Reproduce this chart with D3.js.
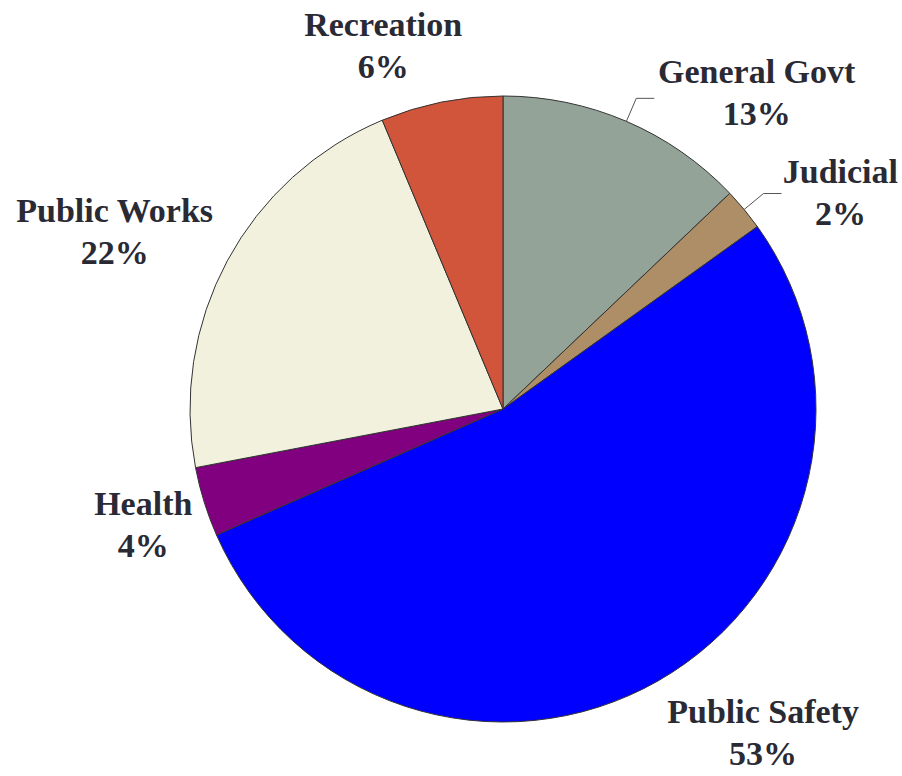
<!DOCTYPE html>
<html>
<head>
<meta charset="utf-8">
<script src="https://cdn.jsdelivr.net/npm/d3@7"></script>
<style>
  html, body { margin: 0; padding: 0; background: #fff; }
  svg { display: block; }
  text.label { font-family: "Liberation Serif", "Times New Roman", Times, serif; font-weight: bold; }
</style>
</head>
<body>
<svg id="chart" width="902" height="776"></svg>
<script>
// data, clockwise from 12 o'clock
const categories = ['General Govt', 'Judicial', 'Public Safety', 'Health', 'Public Works', 'Recreation'];
const values = [12.9, 2.2, 53.3, 3.6, 21.7, 6.3];
const pctLabels = ['13%', '2%', '53%', '4%', '22%', '6%'];
const colors = ['#94a398', '#ad8e67', '#0000ff', '#800080', '#f2f1de', '#d1553b'];

// label layout: [angle in degrees clockwise from top, distance from centre]
const labelAt = [[37.9, 413], [56.2, 406], [140.4, 408], [253.6, 375], [295.7, 431], [342.2, 392]];
const hasLeader = [true, true, false, false, false, false];

const width = 902, height = 776;
const cx = 503, cy = 409, radius = 313;

const svg = d3.select('#chart');
const g = svg.append('g').attr('transform', `translate(${cx},${cy})`);

const slices = categories.map((c, i) => ({ name: c, value: values[i], pct: pctLabels[i], i }));

const pie = d3.pie().value(d => d.value).sort(null);
const arcs = pie(slices);

const arc = d3.arc().innerRadius(0).outerRadius(radius);

g.selectAll('path.slice')
  .data(arcs)
  .enter()
  .append('path')
  .attr('class', 'slice')
  .attr('d', arc)
  .attr('fill', d => colors[d.data.i])
  .attr('stroke', '#333')
  .attr('stroke-width', 1);

// leader lines for the thin slices on the upper right
const edge = d3.arc().innerRadius(radius).outerRadius(radius);
const elbow = d3.arc().innerRadius(radius * 1.08).outerRadius(radius * 1.08);

g.selectAll('polyline.leader')
  .data(arcs.filter(d => hasLeader[d.data.i]))
  .enter()
  .append('polyline')
  .attr('class', 'leader')
  .attr('points', d => {
    const a = edge.centroid(d);
    const b = elbow.centroid(d);
    return [a, b, [b[0] + 18, b[1]]].map(p => p.join(',')).join(' ');
  })
  .attr('fill', 'none')
  .attr('stroke', '#555')
  .attr('stroke-width', 1);

const labels = g.selectAll('text.label')
  .data(arcs)
  .enter()
  .append('text')
  .attr('class', 'label')
  .attr('transform', d => {
    const [deg, r] = labelAt[d.data.i];
    const a = deg * Math.PI / 180;
    return `translate(${r * Math.sin(a)},${-r * Math.cos(a)})`;
  })
  .attr('text-anchor', 'middle')
  .attr('font-size', 34)
  .attr('fill', '#2a2a35');

labels.append('tspan').attr('x', 0).attr('y', 0).text(d => d.data.name);
labels.append('tspan').attr('x', 0).attr('y', 42).text(d => d.data.pct);
</script>
</body>
</html>
